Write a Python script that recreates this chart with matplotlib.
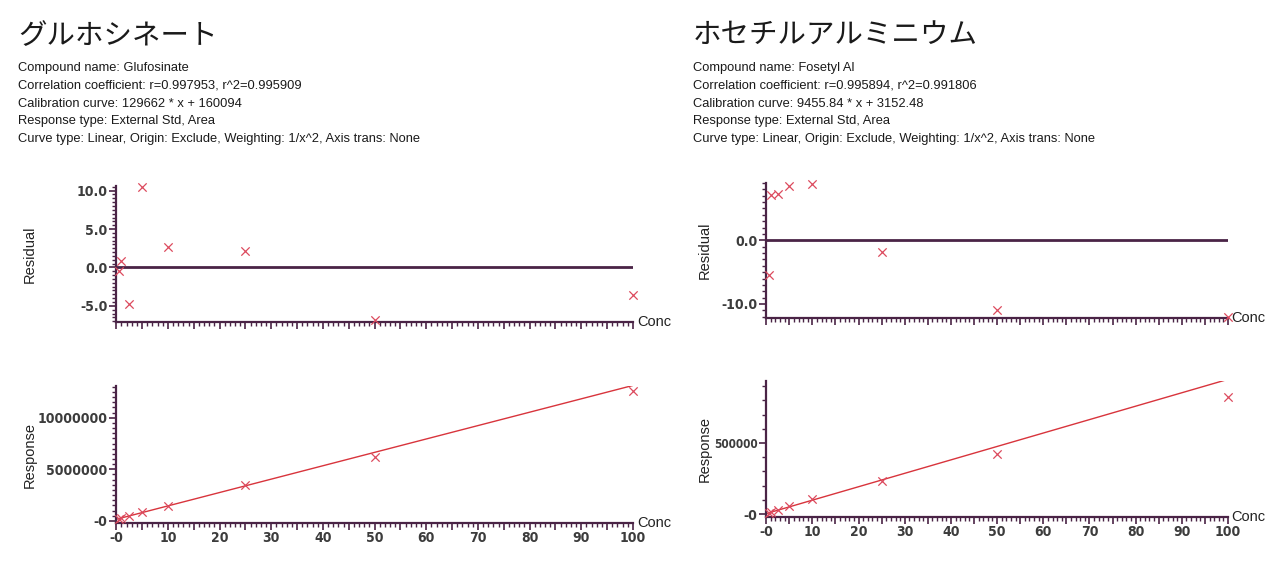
import matplotlib
matplotlib.use("Agg")
import matplotlib.pyplot as plt
from matplotlib import font_manager
from matplotlib.ticker import MultipleLocator, FuncFormatter
import numpy as np

# ---- data ----
conc = [0.5, 1, 2.5, 5, 10, 25, 50, 100]

glu_title = "グルホシネート"
glu_info = [
    "Compound name: Glufosinate",
    "Correlation coefficient: r=0.997953, r^2=0.995909",
    "Calibration curve: 129662 * x + 160094",
    "Response type: External Std, Area",
    "Curve type: Linear, Origin: Exclude, Weighting: 1/x^2, Axis trans: None",
]
glu_slope, glu_icept = 129662, 160094
glu_resid = [-0.4, 0.8, -4.8, 10.5, 2.7, 2.1, -6.9, -3.6]
glu_resp = [224000, 291000, 469000, 876000, 1490000, 3470000, 6200000, 12550000]

fos_title = "ホセチルアルミニウム"
fos_info = [
    "Compound name: Fosetyl Al",
    "Correlation coefficient: r=0.995894, r^2=0.991806",
    "Calibration curve: 9455.84 * x + 3152.48",
    "Response type: External Std, Area",
    "Curve type: Linear, Origin: Exclude, Weighting: 1/x^2, Axis trans: None",
]
fos_slope, fos_icept = 9455.84, 3152.48
fos_resid = [-5.4, 7.1, 7.3, 8.5, 8.8, -1.9, -10.9, -12.1]
fos_resp = [7600, 13300, 28500, 54500, 106000, 236000, 424000, 825000]

AX_COL = "#4a2446"
MK_COL = "#dc4a5e"
LN_COL = "#d8343c"
TICK_COL = "#3c3c3c"

TEXT_FONT = ["Liberation Sans", "DejaVu Sans"]
JP_FONT = ["Noto Sans CJK JP", "DejaVu Sans"]


def narrow_font():
    # tick labels in the original use a condensed bold face
    fonts = font_manager.fontManager.ttflist
    for f in fonts:
        if "DejaVuSansCondensed-Bold." in f.fname:
            return font_manager.FontProperties(fname=f.fname), 10
    for f in fonts:
        if "Narrow" in f.name and f.weight in (700, "bold"):
            return font_manager.FontProperties(fname=f.fname), 10.5
    return None, 8.5


NARROW, NARROW_SIZE = narrow_font()
W, H = 1280, 570


def px_axes(fig, left, right, top, bottom):
    return fig.add_axes([left / W, 1 - bottom / H, (right - left) / W, (bottom - top) / H])


def zero_fmt(decimals):
    def f(v, pos):
        if abs(v) < 1e-9:
            return "-0" if decimals == 0 else "0.0"
        return f"{v:.{decimals}f}"
    return f


def style_labels(ax, long_scale=1.0):
    for lab in ax.get_xticklabels() + ax.get_yticklabels():
        if NARROW is not None:
            lab.set_fontproperties(NARROW)
        else:
            lab.set_fontfamily("Liberation Sans")
            lab.set_fontweight("bold")
        k = long_scale if len(lab.get_text()) > 4 else 1.0
        lab.set_fontsize(NARROW_SIZE * k)


def style_axes(ax, show_xlabels):
    for s in ("top", "right"):
        ax.spines[s].set_visible(False)
    for s in ("left", "bottom"):
        ax.spines[s].set_color(AX_COL)
        ax.spines[s].set_linewidth(1.6)
    ax.tick_params(which="major", direction="out", length=5, width=1.2, color=AX_COL,
                   labelcolor=TICK_COL, pad=1)
    ax.tick_params(which="minor", direction="out", length=3, width=1.0, color=AX_COL)
    ax.set_xlim(-0.05, 100)
    ax.xaxis.set_major_locator(MultipleLocator(5))
    ax.xaxis.set_minor_locator(MultipleLocator(1))
    if show_xlabels:
        ax.xaxis.set_major_formatter(FuncFormatter(
            lambda v, p: "-0" if abs(v) < 1e-9 else (f"{v:.0f}" if round(v) % 10 == 0 else "")))
    else:
        ax.xaxis.set_major_formatter(FuncFormatter(lambda v, p: ""))
    ax.text(1.008, 0.0, "Conc", transform=ax.transAxes, ha="left", va="center",
            fontsize=10.5, family=TEXT_FONT, color="#222222")


def draw_panel(fig, x0, title, info, resid, resp, slope, icept, geo, rlim, rmajor, rminor,
               plim, pmajor, pminor):
    fig.text(x0 / W, 1 - 36 / H, title, family=JP_FONT, fontsize=20.5, ha="left", va="center",
             color="#1a1a1a")
    for i, line in enumerate(info):
        fig.text(x0 / W, 1 - (68 + i * 17.8) / H, line, family=TEXT_FONT, fontsize=9.3,
                 ha="left", va="center", color="#1a1a1a")

    (l, r, rt, rb, pt, pb) = geo
    ax1 = px_axes(fig, l, r, rt, rb)
    ax1.axhline(0, color=AX_COL, linewidth=2.0, zorder=1)
    ax1.scatter(conc, resid, marker="x", s=36, color=MK_COL, linewidths=0.9, zorder=3,
                clip_on=False)
    ax1.set_ylim(*rlim)
    ax1.yaxis.set_major_locator(MultipleLocator(rmajor))
    ax1.yaxis.set_minor_locator(MultipleLocator(rminor))
    ax1.yaxis.set_major_formatter(FuncFormatter(zero_fmt(1)))
    style_axes(ax1, False)
    fig.text((x0 + 12) / W, 1 - ((rt + rb) / 2) / H, "Residual", rotation=90, family=TEXT_FONT,
             fontsize=10.5, ha="center", va="center", color="#222222")

    ax2 = px_axes(fig, l, r, pt, pb)
    xs = np.array([0.0, 100.0])
    ax2.plot(xs, slope * xs + icept, color=LN_COL, linewidth=1.0, zorder=2)
    ax2.scatter(conc, resp, marker="x", s=36, color=MK_COL, linewidths=0.9, zorder=3,
                clip_on=False)
    ax2.set_ylim(*plim)
    ax2.yaxis.set_major_locator(MultipleLocator(pmajor))
    ax2.yaxis.set_minor_locator(MultipleLocator(pminor))
    ax2.yaxis.set_major_formatter(FuncFormatter(zero_fmt(0)))
    style_axes(ax2, True)
    fig.text((x0 + 12) / W, 1 - ((pt + pb) / 2) / H, "Response", rotation=90, family=TEXT_FONT,
             fontsize=10.5, ha="center", va="center", color="#222222")
    return ax1, ax2


fig = plt.figure(figsize=(W / 100, H / 100), dpi=100)

glu_axes = draw_panel(fig, 18, glu_title, glu_info, glu_resid, glu_resp, glu_slope, glu_icept,
                      (116, 633, 186, 322, 386, 523), (-7.1, 10.6), 5.0, 0.5,
                      (-200000, 13070000), 5000000, 500000)
fos_axes = draw_panel(fig, 693, fos_title, fos_info, fos_resid, fos_resp, fos_slope, fos_icept,
                      (766, 1228, 183, 318, 381, 517), (-12.2, 9.0), 10.0, 1.0,
                      (-21000, 937000), 500000, 100000)

fig.canvas.draw()
style_labels(glu_axes[0])
style_labels(glu_axes[1])
style_labels(fos_axes[0])
style_labels(fos_axes[1], long_scale=0.85)

fig.savefig("out.png", dpi=100, facecolor="white")
